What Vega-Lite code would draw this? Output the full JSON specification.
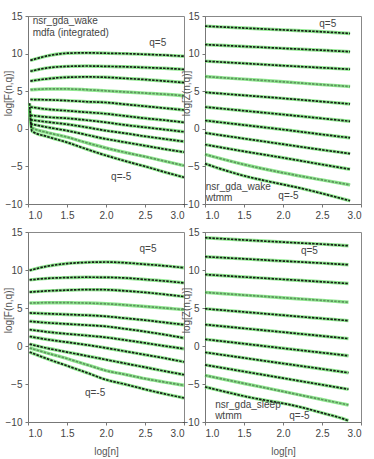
{
"$schema": "https://vega.github.io/schema/vega-lite/v6.json",
"padding": {"left": 2, "top": 10, "right": 2, "bottom": 2},
"background": "white",
"columns": 2,
"spacing": {"row": 28, "column": 21},
"bounds": "flush",
"datasets": {
"curves": [
{"p":"TL","q":5,"x":1.03,"y":9.1},{"p":"TL","q":5,"x":1.25,"y":9.7},{"p":"TL","q":5,"x":1.5,"y":10.05},{"p":"TL","q":5,"x":1.75,"y":10.1},{"p":"TL","q":5,"x":2.0,"y":10.05},{"p":"TL","q":5,"x":2.25,"y":10.0},{"p":"TL","q":5,"x":2.5,"y":9.9},{"p":"TL","q":5,"x":2.75,"y":9.8},{"p":"TL","q":5,"x":3.0,"y":9.65},
{"p":"TL","q":4,"x":1.03,"y":7.65},{"p":"TL","q":4,"x":1.25,"y":8.1},{"p":"TL","q":4,"x":1.5,"y":8.3},{"p":"TL","q":4,"x":1.75,"y":8.35},{"p":"TL","q":4,"x":2.0,"y":8.3},{"p":"TL","q":4,"x":2.25,"y":8.25},{"p":"TL","q":4,"x":2.5,"y":8.15},{"p":"TL","q":4,"x":2.75,"y":8.05},{"p":"TL","q":4,"x":3.0,"y":7.9},
{"p":"TL","q":3,"x":1.03,"y":6.35},{"p":"TL","q":3,"x":1.25,"y":6.65},{"p":"TL","q":3,"x":1.5,"y":6.85},{"p":"TL","q":3,"x":1.75,"y":6.9},{"p":"TL","q":3,"x":2.0,"y":6.85},{"p":"TL","q":3,"x":2.25,"y":6.7},{"p":"TL","q":3,"x":2.5,"y":6.55},{"p":"TL","q":3,"x":2.75,"y":6.35},{"p":"TL","q":3,"x":3.0,"y":6.15},
{"p":"TL","q":2,"x":1.03,"y":5.2},{"p":"TL","q":2,"x":1.25,"y":5.3},{"p":"TL","q":2,"x":1.5,"y":5.3},{"p":"TL","q":2,"x":1.75,"y":5.2},{"p":"TL","q":2,"x":2.0,"y":5.05},{"p":"TL","q":2,"x":2.25,"y":4.9},{"p":"TL","q":2,"x":2.5,"y":4.75},{"p":"TL","q":2,"x":2.75,"y":4.6},{"p":"TL","q":2,"x":3.0,"y":4.4},
{"p":"TL","q":1,"x":1.03,"y":3.9},{"p":"TL","q":1,"x":1.25,"y":3.85},{"p":"TL","q":1,"x":1.5,"y":3.75},{"p":"TL","q":1,"x":1.75,"y":3.6},{"p":"TL","q":1,"x":2.0,"y":3.5},{"p":"TL","q":1,"x":2.25,"y":3.25},{"p":"TL","q":1,"x":2.5,"y":3.0},{"p":"TL","q":1,"x":2.75,"y":2.75},{"p":"TL","q":1,"x":3.0,"y":2.5},
{"p":"TL","q":0,"x":1.03,"y":2.9},{"p":"TL","q":0,"x":1.25,"y":2.6},{"p":"TL","q":0,"x":1.5,"y":2.4},{"p":"TL","q":0,"x":1.75,"y":2.2},{"p":"TL","q":0,"x":2.0,"y":2.0},{"p":"TL","q":0,"x":2.25,"y":1.7},{"p":"TL","q":0,"x":2.5,"y":1.4},{"p":"TL","q":0,"x":2.75,"y":1.15},{"p":"TL","q":0,"x":3.0,"y":0.85},
{"p":"TL","q":-1,"x":1.03,"y":1.8},{"p":"TL","q":-1,"x":1.25,"y":1.55},{"p":"TL","q":-1,"x":1.5,"y":1.4},{"p":"TL","q":-1,"x":1.75,"y":1.15},{"p":"TL","q":-1,"x":2.0,"y":0.85},{"p":"TL","q":-1,"x":2.25,"y":0.5},{"p":"TL","q":-1,"x":2.5,"y":0.2},{"p":"TL","q":-1,"x":2.75,"y":-0.1},{"p":"TL","q":-1,"x":3.0,"y":-0.4},
{"p":"TL","q":-2,"x":1.03,"y":1.2},{"p":"TL","q":-2,"x":1.25,"y":0.9},{"p":"TL","q":-2,"x":1.5,"y":0.6},{"p":"TL","q":-2,"x":1.75,"y":0.2},{"p":"TL","q":-2,"x":2.0,"y":-0.25},{"p":"TL","q":-2,"x":2.25,"y":-0.6},{"p":"TL","q":-2,"x":2.5,"y":-1.0},{"p":"TL","q":-2,"x":2.75,"y":-1.35},{"p":"TL","q":-2,"x":3.0,"y":-1.7},
{"p":"TL","q":-3,"x":1.03,"y":0.65},{"p":"TL","q":-3,"x":1.25,"y":0.2},{"p":"TL","q":-3,"x":1.5,"y":-0.25},{"p":"TL","q":-3,"x":1.75,"y":-0.8},{"p":"TL","q":-3,"x":2.0,"y":-1.35},{"p":"TL","q":-3,"x":2.25,"y":-1.8},{"p":"TL","q":-3,"x":2.5,"y":-2.25},{"p":"TL","q":-3,"x":2.75,"y":-2.7},{"p":"TL","q":-3,"x":3.0,"y":-3.1},
{"p":"TL","q":-4,"x":1.02,"y":2.6},{"p":"TL","q":-4,"x":1.05,"y":0.15},{"p":"TL","q":-4,"x":1.25,"y":-0.5},{"p":"TL","q":-4,"x":1.5,"y":-1.1},{"p":"TL","q":-4,"x":1.75,"y":-1.85},{"p":"TL","q":-4,"x":2.0,"y":-2.55},{"p":"TL","q":-4,"x":2.25,"y":-3.15},{"p":"TL","q":-4,"x":2.5,"y":-3.7},{"p":"TL","q":-4,"x":2.75,"y":-4.3},{"p":"TL","q":-4,"x":3.0,"y":-4.9},
{"p":"TL","q":-5,"x":1.02,"y":3.4},{"p":"TL","q":-5,"x":1.05,"y":-0.3},{"p":"TL","q":-5,"x":1.25,"y":-1.05},{"p":"TL","q":-5,"x":1.5,"y":-1.8},{"p":"TL","q":-5,"x":1.75,"y":-2.7},{"p":"TL","q":-5,"x":2.0,"y":-3.55},{"p":"TL","q":-5,"x":2.25,"y":-4.3},{"p":"TL","q":-5,"x":2.5,"y":-5.0},{"p":"TL","q":-5,"x":2.75,"y":-5.75},{"p":"TL","q":-5,"x":3.0,"y":-6.45},

{"p":"TR","q":5,"x":1.0,"y":13.65},{"p":"TR","q":5,"x":1.5,"y":13.4},{"p":"TR","q":5,"x":2.0,"y":13.15},{"p":"TR","q":5,"x":2.5,"y":12.9},{"p":"TR","q":5,"x":2.86,"y":12.67},
{"p":"TR","q":4,"x":1.0,"y":11.2},{"p":"TR","q":4,"x":1.5,"y":10.95},{"p":"TR","q":4,"x":2.0,"y":10.7},{"p":"TR","q":4,"x":2.5,"y":10.45},{"p":"TR","q":4,"x":2.86,"y":10.25},
{"p":"TR","q":3,"x":1.0,"y":9.0},{"p":"TR","q":3,"x":1.5,"y":8.7},{"p":"TR","q":3,"x":2.0,"y":8.4},{"p":"TR","q":3,"x":2.5,"y":8.12},{"p":"TR","q":3,"x":2.86,"y":7.92},
{"p":"TR","q":2,"x":1.0,"y":6.95},{"p":"TR","q":2,"x":1.5,"y":6.6},{"p":"TR","q":2,"x":2.0,"y":6.25},{"p":"TR","q":2,"x":2.5,"y":5.88},{"p":"TR","q":2,"x":2.86,"y":5.62},
{"p":"TR","q":1,"x":1.0,"y":4.85},{"p":"TR","q":1,"x":1.5,"y":4.45},{"p":"TR","q":1,"x":2.0,"y":4.05},{"p":"TR","q":1,"x":2.5,"y":3.62},{"p":"TR","q":1,"x":2.86,"y":3.3},
{"p":"TR","q":0,"x":1.0,"y":2.9},{"p":"TR","q":0,"x":1.5,"y":2.4},{"p":"TR","q":0,"x":2.0,"y":1.9},{"p":"TR","q":0,"x":2.5,"y":1.38},{"p":"TR","q":0,"x":2.86,"y":1.0},
{"p":"TR","q":-1,"x":1.0,"y":1.1},{"p":"TR","q":-1,"x":1.5,"y":0.5},{"p":"TR","q":-1,"x":2.0,"y":-0.1},{"p":"TR","q":-1,"x":2.5,"y":-0.75},{"p":"TR","q":-1,"x":2.86,"y":-1.2},
{"p":"TR","q":-2,"x":1.0,"y":-0.55},{"p":"TR","q":-2,"x":1.5,"y":-1.3},{"p":"TR","q":-2,"x":2.0,"y":-2.05},{"p":"TR","q":-2,"x":2.5,"y":-2.8},{"p":"TR","q":-2,"x":2.86,"y":-3.3},
{"p":"TR","q":-3,"x":1.0,"y":-2.1},{"p":"TR","q":-3,"x":1.5,"y":-3.0},{"p":"TR","q":-3,"x":2.0,"y":-3.85},{"p":"TR","q":-3,"x":2.5,"y":-4.75},{"p":"TR","q":-3,"x":2.86,"y":-5.38},
{"p":"TR","q":-4,"x":1.0,"y":-3.4},{"p":"TR","q":-4,"x":1.25,"y":-4.1},{"p":"TR","q":-4,"x":1.5,"y":-4.75},{"p":"TR","q":-4,"x":2.0,"y":-5.85},{"p":"TR","q":-4,"x":2.5,"y":-6.8},{"p":"TR","q":-4,"x":2.86,"y":-7.46},
{"p":"TR","q":-5,"x":1.0,"y":-4.63},{"p":"TR","q":-5,"x":1.25,"y":-5.5},{"p":"TR","q":-5,"x":1.5,"y":-6.25},{"p":"TR","q":-5,"x":1.75,"y":-6.85},{"p":"TR","q":-5,"x":2.0,"y":-7.4},{"p":"TR","q":-5,"x":2.25,"y":-7.95},{"p":"TR","q":-5,"x":2.5,"y":-8.6},{"p":"TR","q":-5,"x":2.86,"y":-9.57},

{"p":"BL","q":5,"x":1.02,"y":9.95},{"p":"BL","q":5,"x":1.25,"y":10.5},{"p":"BL","q":5,"x":1.5,"y":10.85},{"p":"BL","q":5,"x":1.75,"y":11.0},{"p":"BL","q":5,"x":2.0,"y":11.05},{"p":"BL","q":5,"x":2.25,"y":10.95},{"p":"BL","q":5,"x":2.5,"y":10.75},{"p":"BL","q":5,"x":2.75,"y":10.55},{"p":"BL","q":5,"x":3.0,"y":10.3},
{"p":"BL","q":4,"x":1.02,"y":8.7},{"p":"BL","q":4,"x":1.25,"y":8.9},{"p":"BL","q":4,"x":1.5,"y":9.0},{"p":"BL","q":4,"x":1.75,"y":9.05},{"p":"BL","q":4,"x":2.0,"y":9.03},{"p":"BL","q":4,"x":2.25,"y":8.95},{"p":"BL","q":4,"x":2.5,"y":8.75},{"p":"BL","q":4,"x":2.75,"y":8.55},{"p":"BL","q":4,"x":3.0,"y":8.3},
{"p":"BL","q":3,"x":1.02,"y":7.1},{"p":"BL","q":3,"x":1.25,"y":7.25},{"p":"BL","q":3,"x":1.5,"y":7.35},{"p":"BL","q":3,"x":1.75,"y":7.42},{"p":"BL","q":3,"x":2.0,"y":7.4},{"p":"BL","q":3,"x":2.25,"y":7.25},{"p":"BL","q":3,"x":2.5,"y":7.05},{"p":"BL","q":3,"x":2.75,"y":6.8},{"p":"BL","q":3,"x":3.0,"y":6.5},
{"p":"BL","q":2,"x":1.02,"y":5.65},{"p":"BL","q":2,"x":1.25,"y":5.7},{"p":"BL","q":2,"x":1.5,"y":5.7},{"p":"BL","q":2,"x":1.75,"y":5.65},{"p":"BL","q":2,"x":2.0,"y":5.55},{"p":"BL","q":2,"x":2.25,"y":5.4},{"p":"BL","q":2,"x":2.5,"y":5.2},{"p":"BL","q":2,"x":2.75,"y":5.0},{"p":"BL","q":2,"x":3.0,"y":4.78},
{"p":"BL","q":1,"x":1.02,"y":4.35},{"p":"BL","q":1,"x":1.25,"y":4.25},{"p":"BL","q":1,"x":1.5,"y":4.15},{"p":"BL","q":1,"x":1.75,"y":4.05},{"p":"BL","q":1,"x":2.0,"y":3.9},{"p":"BL","q":1,"x":2.25,"y":3.65},{"p":"BL","q":1,"x":2.5,"y":3.4},{"p":"BL","q":1,"x":2.75,"y":3.1},{"p":"BL","q":1,"x":3.0,"y":2.8},
{"p":"BL","q":0,"x":1.02,"y":3.25},{"p":"BL","q":0,"x":1.25,"y":3.05},{"p":"BL","q":0,"x":1.5,"y":2.9},{"p":"BL","q":0,"x":1.75,"y":2.75},{"p":"BL","q":0,"x":2.0,"y":2.58},{"p":"BL","q":0,"x":2.25,"y":2.25},{"p":"BL","q":0,"x":2.5,"y":1.9},{"p":"BL","q":0,"x":2.75,"y":1.5},{"p":"BL","q":0,"x":3.0,"y":1.05},
{"p":"BL","q":-1,"x":1.02,"y":2.15},{"p":"BL","q":-1,"x":1.25,"y":1.85},{"p":"BL","q":-1,"x":1.5,"y":1.6},{"p":"BL","q":-1,"x":1.75,"y":1.38},{"p":"BL","q":-1,"x":2.0,"y":1.13},{"p":"BL","q":-1,"x":2.25,"y":0.78},{"p":"BL","q":-1,"x":2.5,"y":0.4},{"p":"BL","q":-1,"x":2.75,"y":0.0},{"p":"BL","q":-1,"x":3.0,"y":-0.36},
{"p":"BL","q":-2,"x":1.02,"y":1.25},{"p":"BL","q":-2,"x":1.25,"y":0.85},{"p":"BL","q":-2,"x":1.5,"y":0.5},{"p":"BL","q":-2,"x":1.75,"y":0.15},{"p":"BL","q":-2,"x":2.0,"y":-0.26},{"p":"BL","q":-2,"x":2.25,"y":-0.7},{"p":"BL","q":-2,"x":2.5,"y":-1.15},{"p":"BL","q":-2,"x":2.75,"y":-1.6},{"p":"BL","q":-2,"x":3.0,"y":-2.1},
{"p":"BL","q":-3,"x":1.02,"y":0.25},{"p":"BL","q":-3,"x":1.25,"y":-0.3},{"p":"BL","q":-3,"x":1.5,"y":-0.8},{"p":"BL","q":-3,"x":1.75,"y":-1.3},{"p":"BL","q":-3,"x":2.0,"y":-1.8},{"p":"BL","q":-3,"x":2.25,"y":-2.3},{"p":"BL","q":-3,"x":2.5,"y":-2.8},{"p":"BL","q":-3,"x":2.75,"y":-3.3},{"p":"BL","q":-3,"x":3.0,"y":-3.78},
{"p":"BL","q":-4,"x":1.02,"y":-0.25},{"p":"BL","q":-4,"x":1.25,"y":-0.95},{"p":"BL","q":-4,"x":1.5,"y":-1.65},{"p":"BL","q":-4,"x":1.75,"y":-2.45},{"p":"BL","q":-4,"x":2.0,"y":-3.25},{"p":"BL","q":-4,"x":2.25,"y":-3.75},{"p":"BL","q":-4,"x":2.5,"y":-4.3},{"p":"BL","q":-4,"x":2.75,"y":-4.75},{"p":"BL","q":-4,"x":3.0,"y":-5.18},
{"p":"BL","q":-5,"x":1.02,"y":-0.8},{"p":"BL","q":-5,"x":1.25,"y":-1.7},{"p":"BL","q":-5,"x":1.5,"y":-2.6},{"p":"BL","q":-5,"x":1.75,"y":-3.5},{"p":"BL","q":-5,"x":2.0,"y":-4.43},{"p":"BL","q":-5,"x":2.25,"y":-5.05},{"p":"BL","q":-5,"x":2.5,"y":-5.7},{"p":"BL","q":-5,"x":2.75,"y":-6.3},{"p":"BL","q":-5,"x":3.0,"y":-6.84},

{"p":"BR","q":5,"x":1.0,"y":14.25},{"p":"BR","q":5,"x":1.5,"y":13.95},{"p":"BR","q":5,"x":2.0,"y":13.67},{"p":"BR","q":5,"x":2.5,"y":13.4},{"p":"BR","q":5,"x":2.84,"y":13.19},
{"p":"BR","q":4,"x":1.0,"y":11.75},{"p":"BR","q":4,"x":1.5,"y":11.47},{"p":"BR","q":4,"x":2.0,"y":11.18},{"p":"BR","q":4,"x":2.5,"y":10.9},{"p":"BR","q":4,"x":2.84,"y":10.69},
{"p":"BR","q":3,"x":1.0,"y":9.4},{"p":"BR","q":3,"x":1.5,"y":9.08},{"p":"BR","q":3,"x":2.0,"y":8.77},{"p":"BR","q":3,"x":2.5,"y":8.45},{"p":"BR","q":3,"x":2.84,"y":8.22},
{"p":"BR","q":2,"x":1.0,"y":7.05},{"p":"BR","q":2,"x":1.5,"y":6.7},{"p":"BR","q":2,"x":2.0,"y":6.35},{"p":"BR","q":2,"x":2.5,"y":6.0},{"p":"BR","q":2,"x":2.84,"y":5.76},
{"p":"BR","q":1,"x":1.0,"y":4.9},{"p":"BR","q":1,"x":1.5,"y":4.48},{"p":"BR","q":1,"x":2.0,"y":4.05},{"p":"BR","q":1,"x":2.5,"y":3.62},{"p":"BR","q":1,"x":2.84,"y":3.34},
{"p":"BR","q":0,"x":1.0,"y":2.82},{"p":"BR","q":0,"x":1.5,"y":2.32},{"p":"BR","q":0,"x":2.0,"y":1.82},{"p":"BR","q":0,"x":2.5,"y":1.32},{"p":"BR","q":0,"x":2.84,"y":0.97},
{"p":"BR","q":-1,"x":1.0,"y":0.88},{"p":"BR","q":-1,"x":1.5,"y":0.3},{"p":"BR","q":-1,"x":2.0,"y":-0.3},{"p":"BR","q":-1,"x":2.5,"y":-0.88},{"p":"BR","q":-1,"x":2.84,"y":-1.28},
{"p":"BR","q":-2,"x":1.0,"y":-0.84},{"p":"BR","q":-2,"x":1.5,"y":-1.57},{"p":"BR","q":-2,"x":2.0,"y":-2.3},{"p":"BR","q":-2,"x":2.5,"y":-3.02},{"p":"BR","q":-2,"x":2.84,"y":-3.52},
{"p":"BR","q":-3,"x":1.0,"y":-2.49},{"p":"BR","q":-3,"x":1.5,"y":-3.36},{"p":"BR","q":-3,"x":2.0,"y":-4.23},{"p":"BR","q":-3,"x":2.5,"y":-5.1},{"p":"BR","q":-3,"x":2.84,"y":-5.69},
{"p":"BR","q":-4,"x":1.0,"y":-3.87},{"p":"BR","q":-4,"x":1.5,"y":-4.93},{"p":"BR","q":-4,"x":2.0,"y":-5.98},{"p":"BR","q":-4,"x":2.5,"y":-7.04},{"p":"BR","q":-4,"x":2.84,"y":-7.76},
{"p":"BR","q":-5,"x":1.0,"y":-5.38},{"p":"BR","q":-5,"x":1.25,"y":-6.0},{"p":"BR","q":-5,"x":1.5,"y":-6.6},{"p":"BR","q":-5,"x":1.75,"y":-7.1},{"p":"BR","q":-5,"x":2.0,"y":-7.55},{"p":"BR","q":-5,"x":2.25,"y":-8.1},{"p":"BR","q":-5,"x":2.5,"y":-8.8},{"p":"BR","q":-5,"x":2.75,"y":-9.5},{"p":"BR","q":-5,"x":2.84,"y":-9.83}
],
"notes": [
{"p":"TL","x":1.06,"y":14.4,"t":"nsr_gda_wake"},{"p":"TL","x":1.06,"y":12.8,"t":"mdfa (integrated)"},{"p":"TL","x":2.555,"y":11.36,"t":"q=5"},{"p":"TL","x":2.065,"y":-6.37,"t":"q=-5"},
{"p":"TR","x":2.465,"y":13.9,"t":"q=5"},{"p":"TR","x":1.01,"y":-7.76,"t":"nsr_gda_wake"},{"p":"TR","x":1.01,"y":-9.2,"t":"wtmm"},{"p":"TR","x":1.94,"y":-8.95,"t":"q=-5"},
{"p":"BL","x":2.43,"y":12.8,"t":"q=5"},{"p":"BL","x":1.73,"y":-6.14,"t":"q=-5"},
{"p":"BR","x":2.23,"y":12.54,"t":"q=5"},{"p":"BR","x":1.13,"y":-7.8,"t":"nsr_gda_sleep"},{"p":"BR","x":1.13,"y":-9.22,"t":"wtmm"},{"p":"BR","x":2.08,"y":-9.22,"t":"q=-5"}
]
},
"concat": [
{"width":156,"height":188,
 "encoding":{
  "x":{"field":"x","type":"quantitative","scale":{"domain":[1,3],"nice":false,"zero":false},"axis":{"values":[1,1.5,2,2.5,3],"format":".1f","title":null}},
  "y":{"field":"y","type":"quantitative","scale":{"domain":[-10,15],"nice":false,"zero":false},"axis":{"values":[-10,-5,0,5,10,15],"title":"log[F(n,q)]","titleX":-20,"titleY":77,"titleBaseline":"middle"}}
 },
 "layer":[
  {"data":{"name":"curves"},"transform":[{"filter":"datum.p==='TL'"}],"mark":{"type":"line","stroke":"#62e062","strokeWidth":3.4,"opacity":0.7,"interpolate":"monotone"},"encoding":{"detail":{"field":"q","type":"nominal"},"order":{"field":"x","type":"quantitative"}}},
  {"data":{"name":"curves"},"transform":[{"filter":"datum.p==='TL'"}],"mark":{"type":"line","stroke":"#111","strokeWidth":1.7,"strokeDash":[2.5,1.2],"interpolate":"monotone"},"encoding":{"detail":{"field":"q","type":"nominal"},"order":{"field":"x","type":"quantitative"},"opacity":{"condition":{"test":"datum.q===2 || datum.q===-4","value":0.4},"value":0.95}}},
  {"data":{"name":"notes"},"transform":[{"filter":"datum.p==='TL'"}],"mark":{"type":"text","align":"left","baseline":"middle","fontSize":10,"font":"Liberation Sans","color":"#444"},"encoding":{"text":{"field":"t"}}}
 ]},
{"width":156,"height":188,
 "encoding":{
  "x":{"field":"x","type":"quantitative","scale":{"domain":[1,3],"nice":false,"zero":false},"axis":{"values":[1,1.5,2,2.5,3],"format":".1f","title":null}},
  "y":{"field":"y","type":"quantitative","scale":{"domain":[-10,15],"nice":false,"zero":false},"axis":{"values":[-10,-5,0,5,10,15],"title":"log[Z(n,q)]","titleX":-19,"titleY":77,"titleBaseline":"middle"}}
 },
 "layer":[
  {"data":{"name":"curves"},"transform":[{"filter":"datum.p==='TR'"}],"mark":{"type":"line","stroke":"#62e062","strokeWidth":3.4,"opacity":0.7,"interpolate":"monotone"},"encoding":{"detail":{"field":"q","type":"nominal"},"order":{"field":"x","type":"quantitative"}}},
  {"data":{"name":"curves"},"transform":[{"filter":"datum.p==='TR'"}],"mark":{"type":"line","stroke":"#111","strokeWidth":1.7,"strokeDash":[2.5,1.2],"interpolate":"monotone"},"encoding":{"detail":{"field":"q","type":"nominal"},"order":{"field":"x","type":"quantitative"},"opacity":{"condition":{"test":"datum.q===2 || datum.q===-4","value":0.4},"value":0.95}}},
  {"data":{"name":"notes"},"transform":[{"filter":"datum.p==='TR'"}],"mark":{"type":"text","align":"left","baseline":"middle","fontSize":10,"font":"Liberation Sans","color":"#444"},"encoding":{"text":{"field":"t"}}}
 ]},
{"width":156,"height":190,
 "encoding":{
  "x":{"field":"x","type":"quantitative","scale":{"domain":[1,3],"nice":false,"zero":false},"axis":{"values":[1,1.5,2,2.5,3],"format":".1f","title":"log[n]","titlePadding":8}},
  "y":{"field":"y","type":"quantitative","scale":{"domain":[-10,15],"nice":false,"zero":false},"axis":{"values":[-10,-5,0,5,10,15],"title":"log[F(n,q)]","titleX":-20,"titleY":78,"titleBaseline":"middle"}}
 },
 "layer":[
  {"data":{"name":"curves"},"transform":[{"filter":"datum.p==='BL'"}],"mark":{"type":"line","stroke":"#62e062","strokeWidth":3.4,"opacity":0.7,"interpolate":"monotone"},"encoding":{"detail":{"field":"q","type":"nominal"},"order":{"field":"x","type":"quantitative"}}},
  {"data":{"name":"curves"},"transform":[{"filter":"datum.p==='BL'"}],"mark":{"type":"line","stroke":"#111","strokeWidth":1.7,"strokeDash":[2.5,1.2],"interpolate":"monotone"},"encoding":{"detail":{"field":"q","type":"nominal"},"order":{"field":"x","type":"quantitative"},"opacity":{"condition":{"test":"datum.q===2 || datum.q===-4","value":0.4},"value":0.95}}},
  {"data":{"name":"notes"},"transform":[{"filter":"datum.p==='BL'"}],"mark":{"type":"text","align":"left","baseline":"middle","fontSize":10,"font":"Liberation Sans","color":"#444"},"encoding":{"text":{"field":"t"}}}
 ]},
{"width":156,"height":190,
 "encoding":{
  "x":{"field":"x","type":"quantitative","scale":{"domain":[1,3],"nice":false,"zero":false},"axis":{"values":[1,1.5,2,2.5,3],"format":".1f","title":"log[n]","titlePadding":8}},
  "y":{"field":"y","type":"quantitative","scale":{"domain":[-10,15],"nice":false,"zero":false},"axis":{"values":[-10,-5,0,5,10,15],"title":"log[Z(n,q)]","titleX":-19,"titleY":78,"titleBaseline":"middle"}}
 },
 "layer":[
  {"data":{"name":"curves"},"transform":[{"filter":"datum.p==='BR'"}],"mark":{"type":"line","stroke":"#62e062","strokeWidth":3.4,"opacity":0.7,"interpolate":"monotone"},"encoding":{"detail":{"field":"q","type":"nominal"},"order":{"field":"x","type":"quantitative"}}},
  {"data":{"name":"curves"},"transform":[{"filter":"datum.p==='BR'"}],"mark":{"type":"line","stroke":"#111","strokeWidth":1.7,"strokeDash":[2.5,1.2],"interpolate":"monotone"},"encoding":{"detail":{"field":"q","type":"nominal"},"order":{"field":"x","type":"quantitative"},"opacity":{"condition":{"test":"datum.q===2 || datum.q===-4","value":0.4},"value":0.95}}},
  {"data":{"name":"notes"},"transform":[{"filter":"datum.p==='BR'"}],"mark":{"type":"text","align":"left","baseline":"middle","fontSize":10,"font":"Liberation Sans","color":"#444"},"encoding":{"text":{"field":"t"}}}
 ]}
],
"config": {
 "view": {"stroke": "#888", "strokeWidth": 1},
 "axis": {"grid": false, "domainColor": "#777", "tickColor": "#777", "tickSize": 3, "labelPadding": 3, "labelColor": "#444", "titleColor": "#555", "labelFont": "Liberation Sans", "titleFont": "Liberation Sans", "labelFontSize": 10, "titleFontSize": 10, "titleFontWeight": "normal"}
}
}
